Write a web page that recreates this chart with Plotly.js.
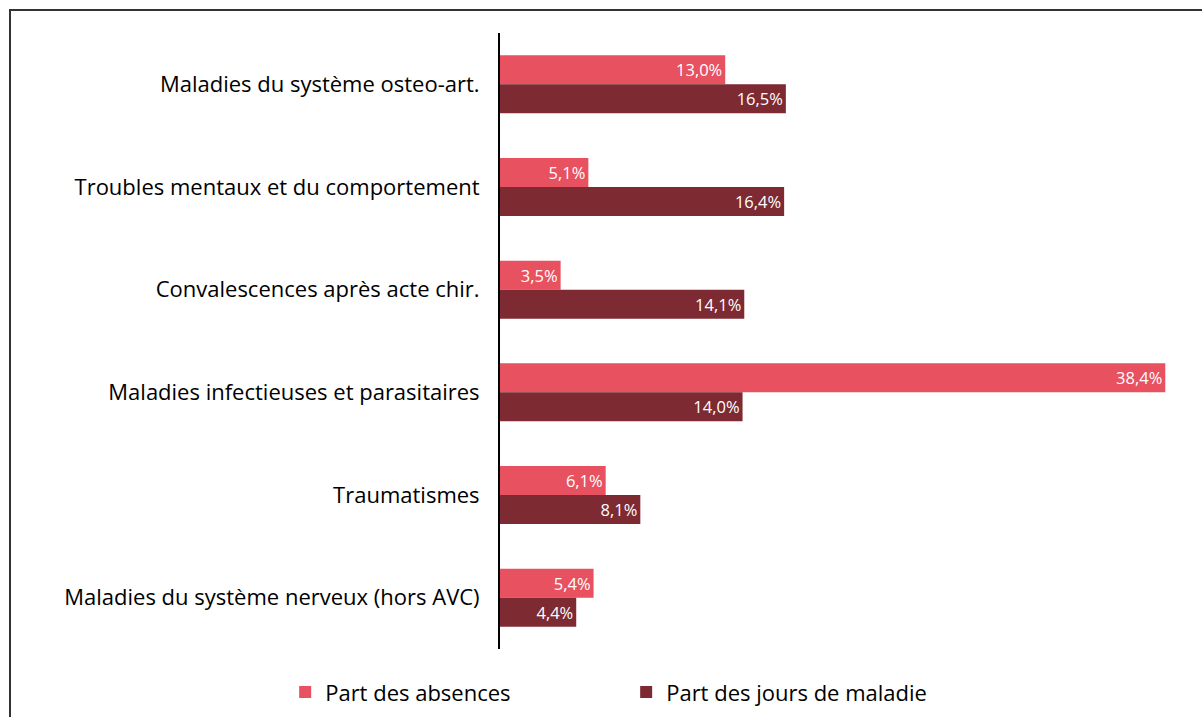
<!DOCTYPE html>
<html>
<head>
<meta charset="utf-8">
<script src="https://cdn.plot.ly/plotly-3.0.1.min.js"></script>
<style>
html,body{margin:0;padding:0;background:#fff;}
#frame{position:absolute;left:9px;top:9px;width:1193px;height:708px;border-left:2px solid #333;border-top:2px solid #333;box-sizing:border-box;}
#chart{position:absolute;left:0;top:0;width:1202px;height:717px;}
</style>
</head>
<body>
<div id="frame"></div>
<div id="chart"></div>
<script>
const categories = [
  "Maladies du système osteo-art.",
  "Troubles mentaux et du comportement",
  "Convalescences après acte chir.",
  "Maladies infectieuses et parasitaires",
  "Traumatismes",
  "Maladies du système nerveux (hors AVC)"
];
const absences = [13.0, 5.1, 3.5, 38.4, 6.1, 5.4];
const joursMaladie = [16.5, 16.4, 14.1, 14.0, 8.1, 4.4];
const seriesNames = ["Part des absences", "Part des jours de maladie"];

const fmt = v => v.toFixed(1).replace('.', ',') + '%';
const FONT = '"Open Sans", "Noto Sans", sans-serif';

const traces = [
  {type:'bar', orientation:'h', y:categories, x:absences, name:seriesNames[0],
   marker:{color:'#E85160'}, text:absences.map(fmt), textposition:'inside',
   insidetextanchor:'end', textfont:{color:'#ffffff', size:16.5, family:FONT},
   hoverinfo:'x+y'},
  {type:'bar', orientation:'h', y:categories, x:joursMaladie, name:seriesNames[1],
   marker:{color:'#7D2A32'}, text:joursMaladie.map(fmt), textposition:'inside',
   insidetextanchor:'end', textfont:{color:'#ffffff', size:16.5, family:FONT},
   hoverinfo:'x+y'}
];

const layout = {
  width:1202, height:717,
  paper_bgcolor:'rgba(0,0,0,0)', plot_bgcolor:'rgba(0,0,0,0)',
  margin:{l:500, r:9, t:33, b:68, autoexpand:false},
  barmode:'group', bargap:0.435, bargroupgap:0,
  font:{family:FONT, color:'#000', size:22},
  xaxis:{range:[0,40], showgrid:false, zeroline:false, showticklabels:false, showline:false, fixedrange:true},
  yaxis:{autorange:'reversed', showline:true, linecolor:'#000', linewidth:2,
         ticks:'', ticklabelstandoff:14, tickfont:{size:22, family:FONT, color:'#000'}, showgrid:false},
  showlegend:true,
  legend:{orientation:'h', x:-0.31, xanchor:'left', y:-0.07, yanchor:'middle',
          font:{size:22, family:FONT, color:'#000'}, entrywidth:296, itemwidth:30,
          tracegroupgap:0},
};

Plotly.newPlot('chart', traces, layout, {displayModeBar:false, staticPlot:true});
</script>
</body>
</html>
